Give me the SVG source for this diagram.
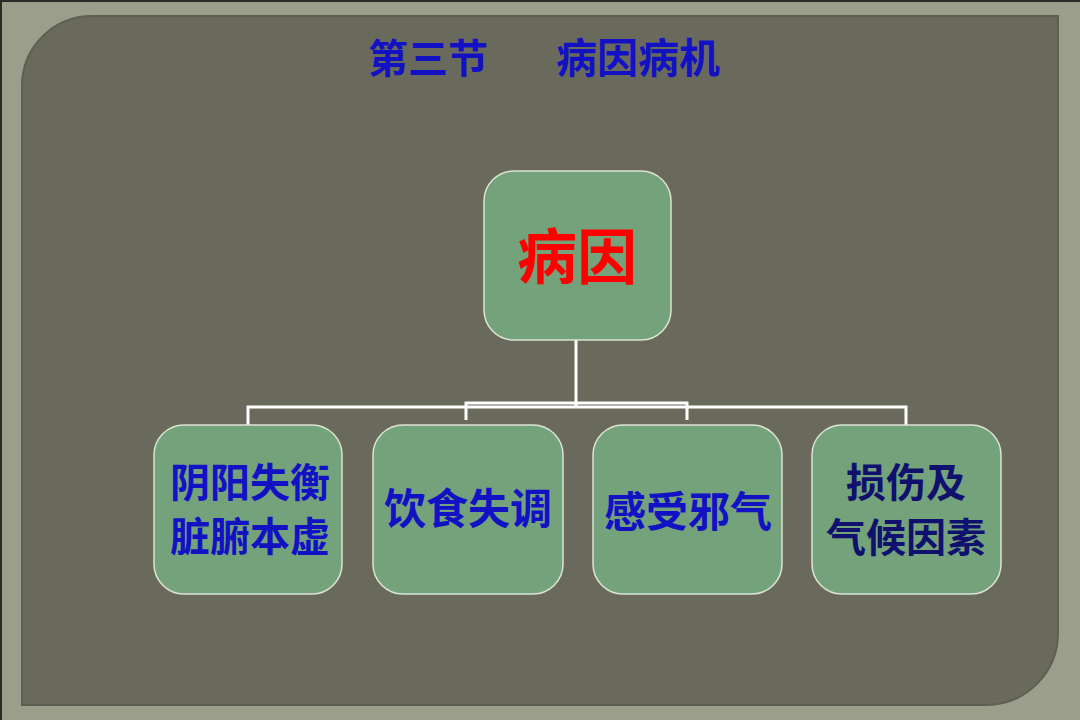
<svg xmlns="http://www.w3.org/2000/svg" width="1080" height="720" viewBox="0 0 1080 720">
<style>
.box{fill:#74A27A;stroke:#DCE4D4;stroke-width:1.5}
.t{font-family:"Noto Sans CJK SC","Noto Sans CJK TC",sans-serif;font-weight:bold;text-anchor:middle}
.blue{fill:#1212C4}
.navy{fill:#10106E}
.conn{stroke:#FFFFFF;stroke-width:3;fill:none}
</style>
<rect x="0" y="0" width="1080" height="720" fill="#9B9E8B"/>
<path d="M0,1 H1080 M1,0 V720" stroke="#2A2A26" stroke-width="2"/>
<path d="M92,16 H1058 V633 A72,72 0 0 1 986,705 H22 V86 A70,70 0 0 1 92,16 Z" fill="#6A6A5C" stroke="#5E5E52" stroke-width="2"/>
<text class="t blue" x="428" y="73" font-size="40">第三节</text>
<text class="t blue" x="638" y="73" font-size="41">病因病机</text>
<g id="connectors">
<path class="conn" d="M576,340 V407 M248,425 V407 H906 V425 M466,420 V403 H687 V420"/>
</g>
<g id="root">
<rect class="box" x="484" y="171" width="187" height="169" rx="30"/>
<text class="t" x="577" y="279" font-size="60" fill="#FF0000">病因</text>
</g>
<g id="n1">
<rect class="box" x="154" y="425" width="188" height="169" rx="30"/>
<text class="t blue" font-size="40"><tspan x="250" y="497">阴阳失衡</tspan><tspan x="250" y="551">脏腑本虚</tspan></text>
</g>
<g id="n2">
<rect class="box" x="373" y="425" width="190" height="169" rx="30"/>
<text class="t blue" x="468" y="524" font-size="42">饮食失调</text>
</g>
<g id="n3">
<rect class="box" x="593" y="425" width="189" height="169" rx="30"/>
<text class="t blue" x="688" y="527" font-size="42">感受邪气</text>
</g>
<g id="n4">
<rect class="box" x="812" y="425" width="189" height="169" rx="30"/>
<text class="t navy" font-size="40"><tspan x="906" y="497">损伤及</tspan><tspan x="906" y="552">气候因素</tspan></text>
</g>
</svg>
